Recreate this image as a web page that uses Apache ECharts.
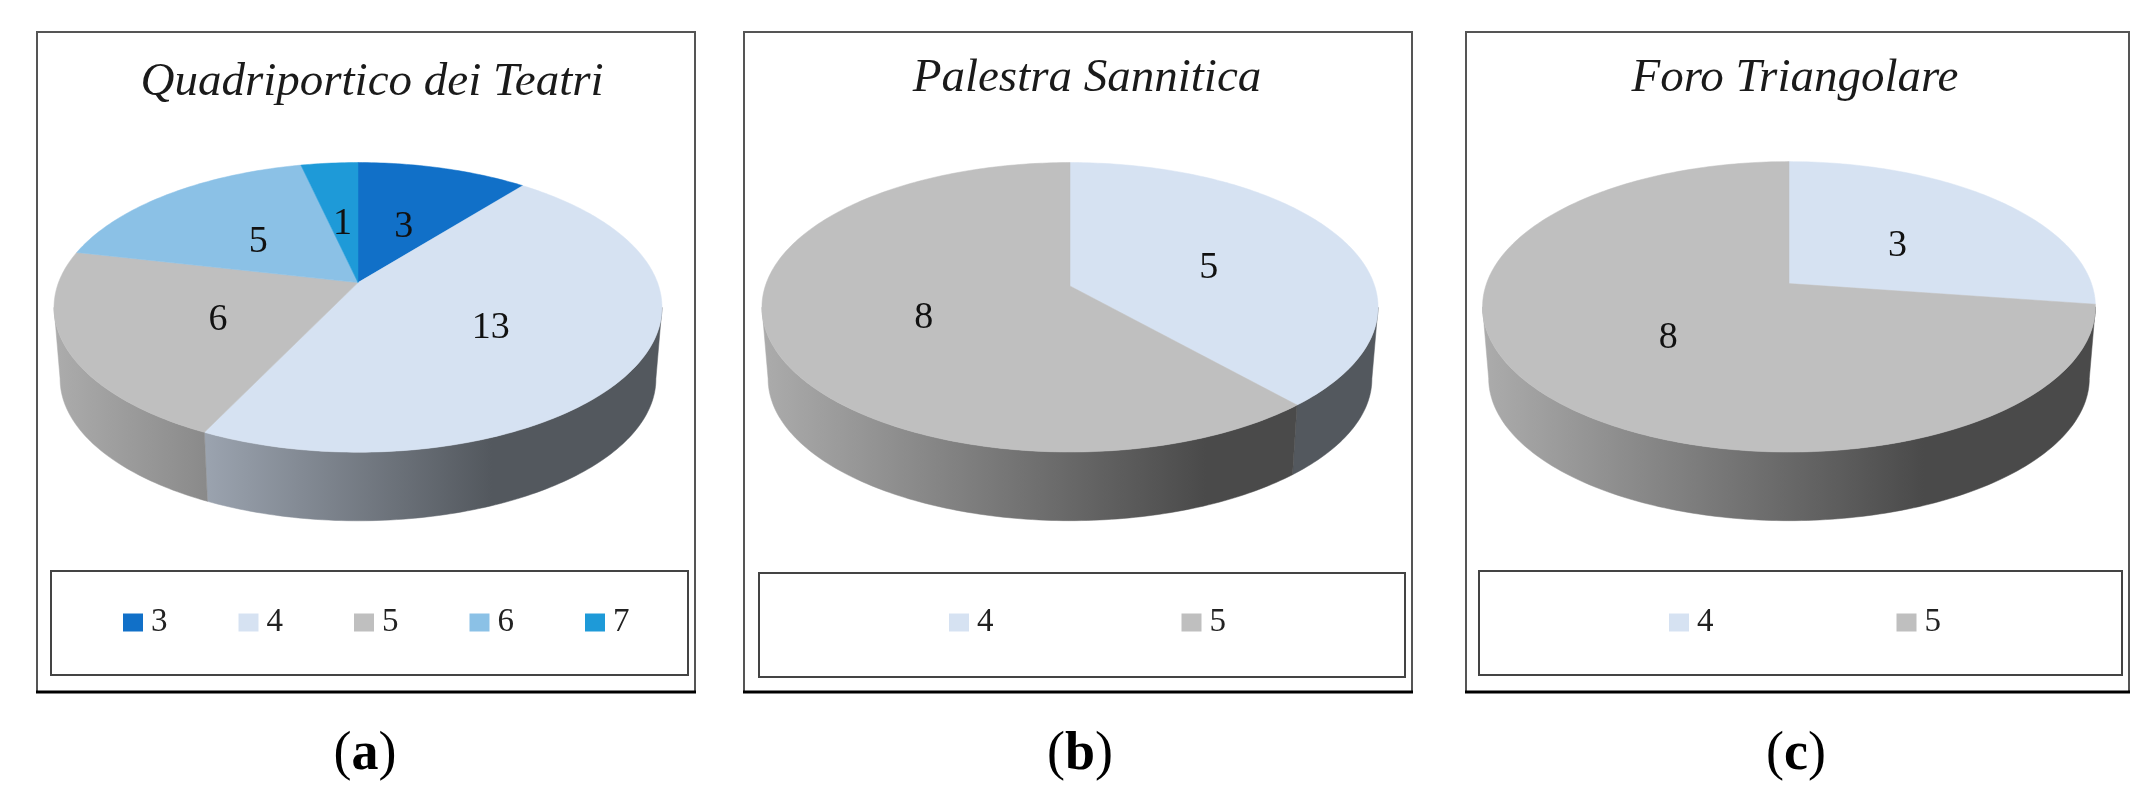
<!DOCTYPE html>
<html lang="en">
<head>
<meta charset="UTF-8">
<title>Pie charts</title>
<script src="https://cdnjs.cloudflare.com/ajax/libs/echarts/6.0.0/echarts.min.js"></script>
<style>
  html, body { margin: 0; padding: 0; background: #fff; }
  #container { width: 2154px; height: 801px; }
</style>
</head>
<body>
<div id="container"></div>
<script>
// chart values
var titlesA = 'Quadriportico dei Teatri';
var titlesB = 'Palestra Sannitica';
var titlesC = 'Foro Triangolare';
var categoriesA = ['3', '4', '5', '6', '7'];
var valuesA = [3, 13, 6, 5, 1];
var categoriesB = ['4', '5'];
var valuesB = [5, 8];
var categoriesC = ['4', '5'];
var valuesC = [3, 8];
var captions = ['a', 'b', 'c'];

var colors = { '3': '#1170c8', '4': '#d6e2f2', '5': '#bfbfbf', '6': '#8bc1e6', '7': '#1e9ad8' };
var serif = '"Liberation Serif", "Times New Roman", serif';

// layout of each panel: frame, legend box, and the tilted disc (apex, radii, perspective k)
var panels = [
  { title: titlesA, cats: categoriesA, vals: valuesA, frame: [37, 32, 695, 692], box: [51, 571, 688, 675],
    cx: 358, ay: 282.6, rx: 299.5, ry: 140.6, k: 0.171, titleX: 372, titleY: 83, capX: 365,
    legendLeft: 123, legendGap: 71 },
  { title: titlesB, cats: categoriesB, vals: valuesB, frame: [744, 32, 1412, 692], box: [759, 573, 1405, 677],
    cx: 1070, ay: 286, rx: 304.7, ry: 141.6, k: 0.147, titleX: 1087, titleY: 79, capX: 1080,
    legendLeft: 949, legendGap: 188 },
  { title: titlesC, cats: categoriesC, vals: valuesC, frame: [1466, 32, 2129, 692], box: [1479, 571, 2122, 675],
    cx: 1789, ay: 283.6, rx: 302.5, ry: 141.5, k: 0.16, titleX: 1795, titleY: 79, capX: 1796,
    legendLeft: 1669, legendGap: 183 }
];

var wallScale = 0.98;
var wallDrop = 72;

// disc coordinate -> screen, f is the fraction of the radius, deg clockwise from 12 o'clock
function project(p, deg, f) {
  var a = deg * Math.PI / 180;
  var u = f * Math.sin(a), v = f * Math.cos(a);
  var d = 1 + p.k * v;
  return [p.cx + p.rx * u / d, p.ay - p.ry * v / d];
}

function arcPoints(p, from, to) {
  var pts = [];
  var n = Math.max(2, Math.ceil(Math.abs(to - from)));
  for (var i = 0; i <= n; i++) {
    pts.push(project(p, from + (to - from) * i / n, 1));
  }
  return pts;
}

function shade(hex, s) {
  var n = parseInt(hex.slice(1), 16);
  var r = Math.round((n >> 16) * s), g = Math.round(((n >> 8) & 255) * s), b = Math.round((n & 255) * s);
  return 'rgb(' + r + ',' + g + ',' + b + ')';
}

function wallFill(p, color) {
  var x0 = p.cx - p.rx * 1.015, x1 = p.cx + p.rx * 1.015;
  return new echarts.graphic.LinearGradient(x0, 0, x1, 0, [
    { offset: 0, color: shade(color, 0.9) },
    { offset: 0.72, color: shade(color, 0.39) },
    { offset: 1, color: shade(color, 0.39) }
  ], true);
}

function sliceRenderer(p, color, startValue, total) {
  return function (params, api) {
    var value = api.value(0);
    var a0 = startValue / total * 360;
    var a1 = (startValue + value) / total * 360;
    var children = [];

    // side wall, only the part that faces the viewer
    var limit = Math.acos(-p.k) * 180 / Math.PI;
    var w0 = Math.max(a0, limit), w1 = Math.min(a1, 360 - limit);
    if (w1 > w0) {
      var upper = arcPoints(p, w0, w1);
      var lower = upper.map(function (q) {
        return [p.cx + (q[0] - p.cx) * wallScale, p.ay + wallDrop + (q[1] - p.ay) * wallScale];
      }).reverse();
      var fill = wallFill(p, color);
      children.push({
        type: 'polygon',
        shape: { points: upper.concat(lower) },
        style: { fill: fill, stroke: fill, lineWidth: 0.5 }
      });
    }

    // top face
    var top = [[p.cx, p.ay]].concat(arcPoints(p, a0, a1));
    children.push({
      type: 'polygon',
      shape: { points: top },
      style: { fill: color, stroke: color, lineWidth: 0.5 }
    });

    // value label halfway out along the slice
    var mid = project(p, (a0 + a1) / 2, 0.5);
    children.push({
      type: 'text',
      style: {
        text: String(value),
        x: mid[0], y: mid[1] + 6,
        align: 'center', verticalAlign: 'middle',
        font: '38px ' + serif,
        fill: '#111'
      }
    });
    return { type: 'group', children: children };
  };
}

var series = [], legends = [], titles = [], graphics = [];

panels.forEach(function (p, idx) {
  var total = p.vals.reduce(function (s, v) { return s + v; }, 0);
  var run = 0;
  p.cats.forEach(function (cat, i) {
    series.push({
      type: 'custom',
      name: cat,
      coordinateSystem: 'none',
      silent: true,
      itemStyle: { color: colors[cat] },
      data: [[p.vals[i]]],
      renderItem: sliceRenderer(p, colors[cat], run, total)
    });
    run += p.vals[i];
  });

  legends.push({
    left: p.legendLeft,
    top: 606,
    padding: 0,
    orient: 'horizontal',
    icon: 'rect',
    itemWidth: 20,
    itemHeight: 18,
    itemGap: p.legendGap,
    selectedMode: false,
    data: p.cats,
    textStyle: { fontFamily: serif, fontSize: 33, color: '#222', padding: [0, 0, 0, 3] }
  });

  titles.push({
    text: p.title,
    left: p.titleX,
    top: p.titleY,
    textAlign: 'center',
    textVerticalAlign: 'middle',
    padding: 0,
    textStyle: { fontFamily: serif, fontStyle: 'italic', fontWeight: 'normal', fontSize: 47, color: '#1a1a1a' }
  });
  titles.push({
    text: '({b|' + captions[idx] + '})',
    left: p.capX,
    top: 755,
    textAlign: 'center',
    textVerticalAlign: 'middle',
    padding: 0,
    textStyle: {
      fontFamily: serif, fontWeight: 'normal', fontSize: 54, color: '#000',
      rich: { b: { fontFamily: serif, fontWeight: 'bold', fontSize: 54, color: '#000' } }
    }
  });

  var f = p.frame, b = p.box;
  graphics.push({
    type: 'rect', silent: true, z: -1,
    shape: { x: f[0], y: f[1], width: f[2] - f[0], height: f[3] - f[1] },
    style: { fill: '#fff', stroke: '#555', lineWidth: 2 }
  });
  graphics.push({
    type: 'line', silent: true, z: -1,
    shape: { x1: f[0] - 1, y1: f[3], x2: f[2] + 1, y2: f[3] },
    style: { stroke: '#000', lineWidth: 3 }
  });
  graphics.push({
    type: 'rect', silent: true, z: -1,
    shape: { x: b[0], y: b[1], width: b[2] - b[0], height: b[3] - b[1] },
    style: { fill: '#fff', stroke: '#444', lineWidth: 2 }
  });
});

var myChart = echarts.init(document.getElementById('container'), null, { renderer: 'canvas' });
myChart.setOption({
  animation: false,
  backgroundColor: '#fff',
  title: titles,
  legend: legends,
  tooltip: { show: false },
  graphic: graphics,
  series: series
});
</script>
</body>
</html>
